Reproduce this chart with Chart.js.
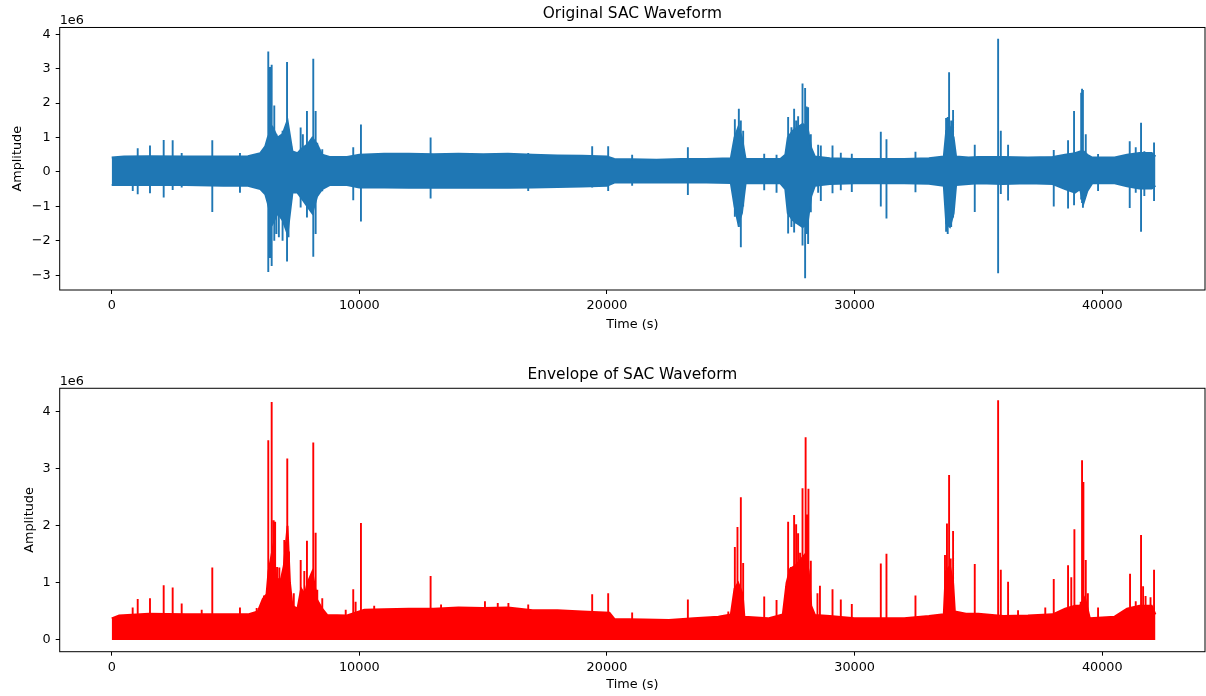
<!DOCTYPE html>
<html>
<head>
<meta charset="utf-8">
<title>SAC Waveform</title>
<script src="https://cdn.jsdelivr.net/npm/chart.js@4.4.0/dist/chart.umd.min.js"></script>
<style>
body{margin:0;background:#fff;}
canvas{position:absolute;left:0;}
#wave{top:0;}
#env{top:345px;}
</style>
</head>
<body>
<canvas id="wave" width="1206" height="345"></canvas>
<canvas id="env" width="1206" height="351"></canvas>
<script>
// values in units of 1e6, time in seconds
var xTicks = [0, 10000, 20000, 30000, 40000];
var waveYTicks = [-3, -2, -1, 0, 1, 2, 3, 4];
var envYTicks = [0, 1, 2, 3, 4];

// background noise band of the raw waveform
var bandT = [0, 500, 1500, 3000, 4500, 5500, 6000, 6200, 6300, 6500,
    6700, 6900, 7100, 7300, 7500, 7700, 7900, 8100, 8300, 8500,
    8800, 9500, 10000, 11000, 12000, 13000, 14000, 15000, 16000, 17000,
    18000, 19000, 20000, 20300, 21000, 22000, 23000, 24000, 25000, 25150,
    25300, 25450, 25600, 26500, 27000, 27200, 27300, 27500, 27700, 27900,
    28100, 28250, 28400, 29000, 30000, 31000, 32000, 33000, 33600, 33700,
    33850, 34000, 34100, 34600, 35000, 36000, 37000, 38000, 38500, 38900,
    39100, 39250, 39400, 39600, 40500, 41000, 41500, 42000, 42150];
var bandHi = [0.42, 0.45, 0.46, 0.45, 0.45, 0.46, 0.55, 0.75, 1.0, 1.3,
    1.0, 1.1, 1.5, 0.6, 0.55, 0.7, 0.8, 1.0, 0.8, 0.5,
    0.44, 0.44, 0.5, 0.53, 0.53, 0.52, 0.53, 0.52, 0.53, 0.5,
    0.48, 0.47, 0.45, 0.38, 0.37, 0.36, 0.38, 0.38, 0.4, 1.0,
    1.3, 1.0, 0.38, 0.38, 0.38, 0.5, 1.0, 1.2, 1.3, 1.4,
    1.3, 0.7, 0.45, 0.4, 0.38, 0.38, 0.38, 0.4, 0.45, 1.2,
    1.3, 1.0, 0.45, 0.42, 0.44, 0.44, 0.42, 0.44, 0.5, 0.55,
    0.6, 0.6, 0.5, 0.42, 0.42, 0.5, 0.55, 0.55, 0.45];
var bandLo = [-0.38, -0.38, -0.38, -0.38, -0.40, -0.40, -0.5, -0.65, -0.9, -1.5,
    -1.2, -1.4, -1.8, -0.6, -0.6, -0.8, -1.0, -1.2, -0.7, -0.5,
    -0.38, -0.38, -0.45, -0.45, -0.46, -0.46, -0.46, -0.45, -0.46, -0.45,
    -0.44, -0.42, -0.4, -0.31, -0.31, -0.30, -0.31, -0.31, -0.32, -1.0,
    -1.5, -1.2, -0.33, -0.33, -0.33, -0.5, -1.2, -1.4, -1.5, -1.6,
    -1.5, -0.7, -0.4, -0.35, -0.33, -0.33, -0.33, -0.34, -0.4, -1.5,
    -1.6, -1.2, -0.38, -0.35, -0.33, -0.35, -0.33, -0.35, -0.5, -0.6,
    -0.5, -0.9, -0.55, -0.33, -0.33, -0.42, -0.48, -0.48, -0.40];

// single spikes of the raw waveform (top and bottom)
var spikeT = [850, 1050, 1546, 2099, 2462, 2826, 4062, 5180, 5854, 6323,
    6400, 6460, 6565, 6650, 6750, 6900, 7080, 7140, 7250, 7630,
    7720, 7885, 7960, 8140, 8236, 8300, 8503, 9754, 10065, 12878,
    16820, 19403, 20049, 21017, 23267, 25164, 25325, 25406, 25500, 26350,
    26848, 27316, 27450, 27558, 27640, 27720, 27800, 27897, 28002, 28060,
    28123, 28232, 28528, 28636, 29108, 29443, 29887, 31058, 31287, 32458,
    33695, 33760, 33816, 33900, 33977, 34852, 35796, 35904, 36198, 38042,
    38620, 38862, 39150, 39185, 39220, 39335, 39832, 41110, 41353, 41567,
    41700, 42092];
var spikeHi = [0.45, 0.69, 0.77, 0.93, 0.92, 0.55, 0.92, 0.55, 0.5, 3.5,
    3.05, 3.12, 1.93, 1.1, 1.0, 1.2, 3.2, 1.2, 0.75, 1.29,
    1.1, 1.77, 0.77, 3.29, 1.77, 0.85, 0.66, 0.72, 1.38, 1.0,
    0.55, 0.75, 0.75, 0.5, 0.72, 1.53, 1.84, 1.5, 1.2, 0.53,
    0.5, 1.6, 1.3, 1.84, 1.5, 1.62, 1.3, 2.57, 2.44, 1.9,
    1.88, 1.1, 0.79, 0.77, 0.77, 0.56, 0.53, 1.17, 0.95, 0.59,
    1.57, 1.6, 2.9, 1.5, 1.8, 0.79, 3.87, 1.2, 0.79, 0.64,
    0.92, 1.77, 2.3, 2.42, 2.38, 1.1, 0.52, 0.89, 0.72, 1.43,
    0.6, 0.86];
var spikeLo = [-0.55, -0.65, -0.62, -0.74, -0.52, -0.45, -1.16, -0.6, -0.45, -2.91,
    -2.5, -2.73, -2.0, -1.8, -1.9, -2.0, -2.6, -1.9, -0.8, -1.03,
    -0.75, -1.32, -0.6, -2.46, -1.8, -0.7, -0.56, -0.82, -1.44, -0.77,
    -0.55, -0.45, -0.55, -0.4, -0.67, -1.3, -1.6, -2.19, -1.0, -0.53,
    -0.6, -1.79, -1.6, -1.76, -1.5, -1.37, -1.5, -2.14, -3.09, -1.8,
    -2.09, -1.17, -0.6, -0.84, -0.62, -0.53, -0.58, -1.0, -1.35, -0.59,
    -1.74, -1.8, -1.56, -1.6, -1.32, -1.16, -2.94, -0.64, -0.83, -1.0,
    -1.06, -0.97, -0.8, -0.9, -1.04, -0.7, -0.55, -1.05, -0.6, -1.74,
    -0.7, -0.84];

// envelope: background level
var envT = [0, 300, 1500, 3000, 4500, 5500, 5900, 6100, 6250, 6330,
    6500, 6650, 6800, 6950, 7100, 7200, 7300, 7500, 7650, 7800,
    7900, 8100, 8300, 8500, 8700, 9500, 10200, 11000, 12000, 13000,
    14000, 15000, 16000, 17000, 18000, 19000, 20100, 20300, 21500, 22500,
    23500, 24500, 25000, 25150, 25300, 25480, 25550, 26500, 27100, 27250,
    27400, 27600, 27800, 28000, 28150, 28250, 28400, 29000, 30000, 31000,
    32000, 33000, 33600, 33680, 33850, 33980, 34050, 34500, 35000, 36000,
    37000, 38000, 38500, 38900, 39100, 39300, 39500, 40500, 41000, 41500,
    42000, 42150];
var envHi = [0.38, 0.43, 0.46, 0.45, 0.45, 0.45, 0.5, 0.72, 0.8, 1.2,
    1.6, 1.1, 1.0, 1.3, 2.0, 1.0, 0.6, 0.55, 0.9, 0.8,
    1.0, 1.2, 0.7, 0.55, 0.44, 0.43, 0.53, 0.54, 0.55, 0.55,
    0.57, 0.56, 0.57, 0.52, 0.52, 0.5, 0.48, 0.37, 0.36, 0.35,
    0.38, 0.41, 0.45, 0.9, 1.0, 0.8, 0.41, 0.38, 0.45, 1.0,
    1.25, 1.3, 1.4, 1.5, 1.2, 0.6, 0.44, 0.42, 0.38, 0.38,
    0.38, 0.42, 0.45, 1.2, 1.3, 1.0, 0.5, 0.46, 0.46, 0.42,
    0.43, 0.45, 0.55, 0.6, 0.6, 0.75, 0.38, 0.41, 0.55, 0.6,
    0.6, 0.45];

// envelope: spikes
var envSpikeT = [847, 1050, 1546, 2099, 2462, 2826, 3634, 4062, 5180, 5854,
    6150, 6323, 6460, 6541, 6600, 6680, 6720, 6770, 6970, 7090,
    7160, 7245, 7353, 7632, 7700, 7778, 7885, 8050, 8140, 8236,
    8302, 8503, 9450, 9754, 9850, 10065, 10600, 12878, 13300, 15073,
    15590, 16020, 16820, 19403, 20049, 21017, 23267, 24900, 25164, 25270,
    25406, 25500, 26350, 26848, 27230, 27316, 27430, 27558, 27640, 27720,
    27800, 27897, 28022, 28080, 28136, 28232, 28500, 28600, 29108, 29443,
    29887, 31058, 31287, 32458, 33650, 33730, 33816, 33880, 33977, 34852,
    35796, 35904, 36198, 36600, 37700, 38042, 38620, 38750, 38876, 39130,
    39185, 39240, 39335, 39420, 39832, 41123, 41353, 41567, 41650, 41750,
    41850, 41950, 42092];
var envSpikeHi = [0.57, 0.72, 0.73, 0.96, 0.92, 0.64, 0.53, 1.27, 0.57, 0.56,
    0.78, 3.5, 4.17, 2.1, 2.07, 1.28, 1.08, 1.27, 1.75, 3.18,
    1.55, 0.76, 0.82, 1.4, 0.7, 1.21, 1.74, 0.7, 3.46, 1.88,
    0.88, 0.73, 0.53, 0.89, 0.67, 2.05, 0.6, 1.12, 0.62, 0.68,
    0.65, 0.65, 0.62, 0.8, 0.82, 0.48, 0.71, 0.5, 1.63, 1.98,
    2.5, 1.35, 0.76, 0.7, 0.94, 2.07, 1.28, 2.19, 2.03, 1.87,
    1.53, 2.66, 3.55, 2.2, 2.65, 1.39, 0.82, 0.95, 0.89, 0.71,
    0.63, 1.34, 1.51, 0.78, 1.49, 2.04, 2.89, 1.43, 1.91, 1.33,
    4.2, 1.23, 1.02, 0.52, 0.57, 1.07, 1.31, 1.1, 1.94, 0.67,
    3.15, 2.77, 1.4, 0.82, 0.57, 1.16, 0.68, 1.84, 0.94, 0.77,
    0.59, 0.75, 1.23];

var BLUE = '#1f77b4';
var RED = '#ff0000';
var LW = 1.9;

Chart.defaults.font.family = '"DejaVu Sans", sans-serif';
Chart.defaults.font.size = 12.8;
Chart.defaults.color = '#000';

function points(ts, ys) {
    return ts.map(function(t, i) { return {x: t, y: ys[i]}; });
}

// each spike is a vertical stroke, broken from the next with a null
function strokes(ts, hi, lo) {
    var out = [];
    for (var i = 0; i < ts.length; i++) {
        out.push({x: ts[i], y: hi[i]});
        out.push({x: ts[i], y: lo ? lo[i] : 0});
        out.push({x: ts[i], y: null});
    }
    return out;
}

function minusLabel(v) {
    return v < 0 ? '\u2212' + Math.abs(v) : String(v);
}

// matplotlib style box + the "1e6" offset text
var frame = {
    id: 'frame',
    afterDatasetsDraw: function(chart) {
        var a = chart.chartArea;
        var ctx = chart.ctx;
        ctx.save();
        ctx.strokeStyle = '#000';
        ctx.lineWidth = 1;
        ctx.strokeRect(a.left, a.top, a.right - a.left, a.bottom - a.top);
        ctx.fillStyle = '#000';
        ctx.font = '12.8px "DejaVu Sans"';
        ctx.textAlign = 'left';
        ctx.textBaseline = 'alphabetic';
        ctx.fillText('1e6', a.left, a.top - 3.5);
        ctx.restore();
    }
};

function makeOptions(cfg) {
    return {
        responsive: false,
        animation: false,
        events: [],
        layout: {padding: {left: cfg.padLeft, right: 1, top: cfg.padTop, bottom: 0}},
        plugins: {
            legend: {display: false},
            tooltip: {enabled: false},
            title: {
                display: true,
                text: cfg.title,
                fullSize: false,
                color: '#000',
                font: {size: 15.4, weight: 'normal'},
                padding: {top: 4.5, bottom: 4.5}
            }
        },
        scales: {
            x: {
                type: 'linear',
                min: -2100,
                max: 44150,
                afterBuildTicks: function(s) {
                    s.ticks = xTicks.map(function(v) { return {value: v}; });
                },
                afterFit: function(s) { s.height = cfg.xHeight; },
                grid: {drawOnChartArea: false, drawTicks: true, tickLength: 4, color: '#000'},
                border: {display: false},
                ticks: {padding: 4, maxRotation: 0, autoSkip: false,
                    callback: function(v) { return String(v); }},
                title: {display: true, text: 'Time (s)', padding: {top: 0, bottom: cfg.xTitlePad}}
            },
            y: {
                type: 'linear',
                min: cfg.yMin,
                max: cfg.yMax,
                afterBuildTicks: function(s) {
                    s.ticks = cfg.yTicks.map(function(v) { return {value: v}; });
                },
                afterFit: function(s) { s.width = 59.7 - cfg.padLeft; },
                grid: {drawOnChartArea: false, drawTicks: true, tickLength: 4, color: '#000'},
                border: {display: false},
                ticks: {padding: 5, autoSkip: false, callback: minusLabel},
                title: {display: true, text: 'Amplitude', padding: {top: 0, bottom: 0}}
            }
        }
    };
}

var ctxWave = document.getElementById('wave').getContext('2d');
var waveChart = new Chart(ctxWave, {
    type: 'line',
    data: {
        datasets: [{
            data: points(bandT, bandHi),
            borderColor: BLUE,
            backgroundColor: BLUE,
            borderWidth: LW,
            pointRadius: 0,
            fill: '+1'
        }, {
            data: points(bandT, bandLo),
            borderColor: BLUE,
            borderWidth: LW,
            pointRadius: 0,
            fill: false
        }, {
            data: strokes(spikeT, spikeHi, spikeLo),
            borderColor: BLUE,
            borderWidth: LW,
            pointRadius: 0,
            fill: false,
            spanGaps: false
        }]
    },
    options: makeOptions({
        title: 'Original SAC Waveform',
        padLeft: 10, padTop: 0,
        xHeight: 55, xTitlePad: 12.8,
        yMin: -3.43, yMax: 4.2, yTicks: waveYTicks
    }),
    plugins: [frame]
});

var ctxEnv = document.getElementById('env').getContext('2d');
var envChart = new Chart(ctxEnv, {
    type: 'line',
    data: {
        datasets: [{
            data: points(envT, envHi),
            borderColor: RED,
            backgroundColor: RED,
            borderWidth: LW,
            pointRadius: 0,
            fill: 'origin'
        }, {
            data: strokes(envSpikeT, envSpikeHi),
            borderColor: RED,
            borderWidth: LW,
            pointRadius: 0,
            fill: false,
            spanGaps: false
        }]
    },
    options: makeOptions({
        title: 'Envelope of SAC Waveform',
        padLeft: 22.3, padTop: 15.8,
        xHeight: 44.3, xTitlePad: 3.3,
        yMin: -0.205, yMax: 4.41, yTicks: envYTicks
    }),
    plugins: [frame]
});
</script>
</body>
</html>
